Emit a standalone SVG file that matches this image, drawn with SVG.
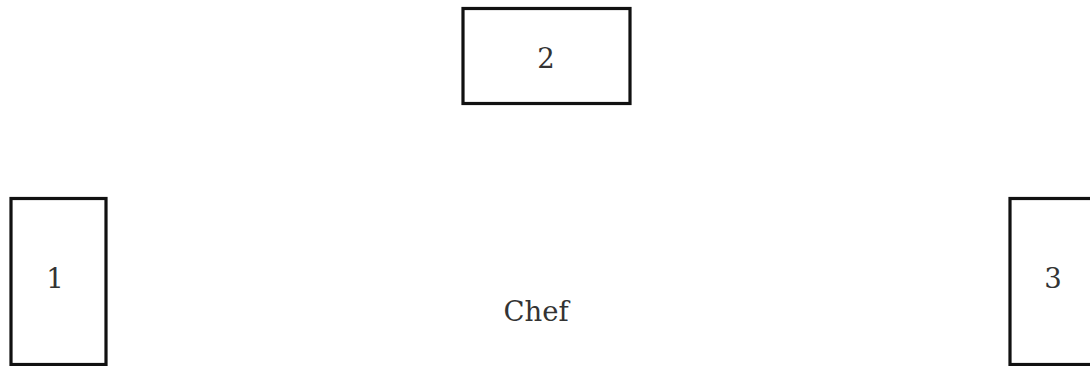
<svg xmlns="http://www.w3.org/2000/svg" width="1090" height="366" viewBox="0 0 1090 366">
<style>
.box{fill:#fff;stroke:#111;stroke-width:3.2}
.lbl{font-family:"DejaVu Serif","Liberation Serif",serif;font-size:27.5px;fill:#333;text-anchor:middle;dominant-baseline:central}
</style>
<rect width="1090" height="366" fill="#fff"/>
<g id="connectors"></g>
<g id="node2"><rect class="box" x="463" y="8.5" width="167" height="95"/><text class="lbl" x="546" y="58">2</text></g>
<g id="node1"><rect class="box" x="11" y="198.5" width="95" height="166"/><text class="lbl" x="55" y="278">1</text></g>
<g id="node3"><rect class="box" x="1010" y="198.5" width="95" height="166"/><text class="lbl" x="1053" y="278">3</text></g>
<g id="chef"><text class="lbl" x="536" y="311">Chef</text></g>
</svg>
